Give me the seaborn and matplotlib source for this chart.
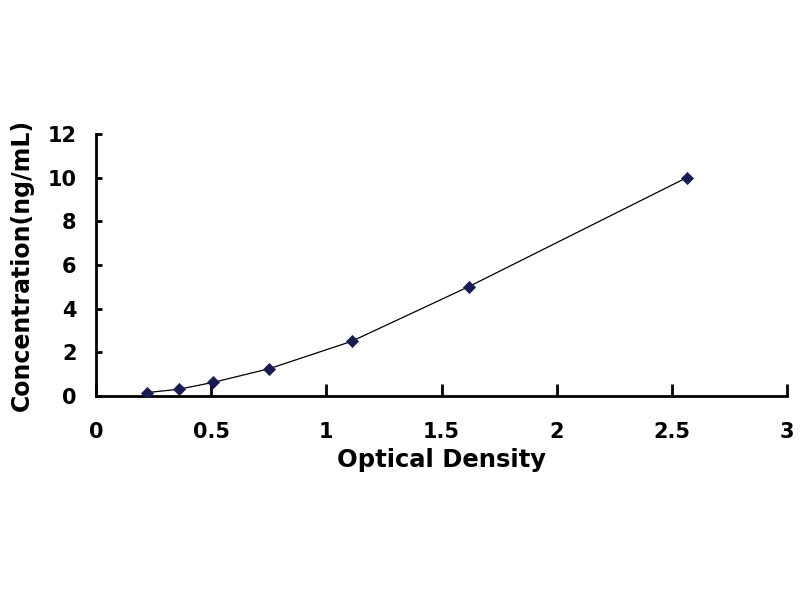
import numpy as np
import pandas as pd
import matplotlib
matplotlib.use("Agg")
from matplotlib import pyplot as plt
import seaborn as sns

# standard curve readings
optical_density = [0.222, 0.361, 0.509, 0.752, 1.109, 1.617, 2.565]
concentration = [0.156, 0.312, 0.625, 1.25, 2.5, 5.0, 10.0]

x_ticks = [0, 0.5, 1, 1.5, 2, 2.5, 3]
x_tick_labels = ["0", "0.5", "1", "1.5", "2", "2.5", "3"]
y_ticks = [0, 2, 4, 6, 8, 10, 12]

sns.set_style("white")
plt.rcParams['font.family'] = ['DejaVu Sans']
plt.rcParams['font.weight'] = 'bold'

df = pd.DataFrame({"od": optical_density, "conc": concentration})

fig = plt.figure(figsize=(8, 6), dpi=100)
ax = fig.add_axes([0.12, 0.34, 0.864, 0.437])

sns.lineplot(data=df, x="od", y="conc", color="black", linewidth=0.9, ax=ax)
sns.scatterplot(data=df, x="od", y="conc", marker="D", s=38, color="#1a1a55",
                edgecolor="#1a1a55", linewidth=0.5, zorder=3, ax=ax)

ax.set_xlim(0, 3)
ax.set_ylim(0, 12)
ax.set_xticks(x_ticks)
ax.set_xticklabels(x_tick_labels)
ax.set_yticks(y_ticks)

for side in ["top", "right"]:
    ax.spines[side].set_visible(False)
for side in ["left", "bottom"]:
    ax.spines[side].set_linewidth(2.0)
    ax.spines[side].set_color("black")

ax.tick_params(axis="x", bottom=True, direction="in", length=9, width=2,
               labelsize=15, pad=19, colors="black")
ax.tick_params(axis="y", left=True, direction="in", length=4, width=2,
               labelsize=15, pad=14, colors="black")
ax.set_xlabel("Optical Density", fontsize=17.5, fontweight="heavy", color="black", labelpad=4)
ax.set_ylabel("Concentration(ng/mL)", fontsize=17, fontweight="heavy", color="black", labelpad=10)

plt.savefig("out.png", dpi=100)
